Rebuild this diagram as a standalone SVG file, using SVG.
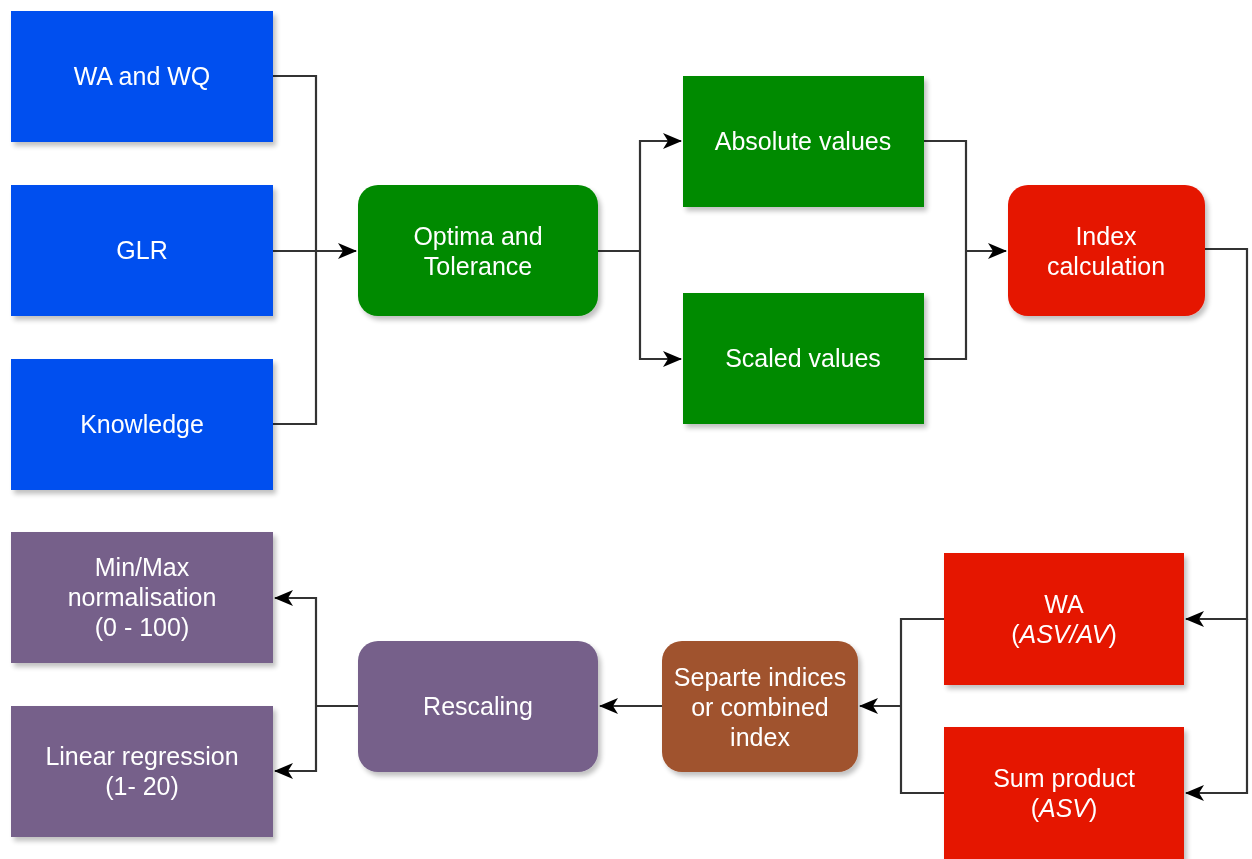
<svg xmlns="http://www.w3.org/2000/svg" width="1252" height="859" viewBox="0 0 1252 859">
<defs>
<filter id="sh" x="-10%" y="-10%" width="130%" height="130%">
<feGaussianBlur in="SourceAlpha" stdDeviation="2.5"/>
<feOffset dx="3" dy="4" result="b"/>
<feComponentTransfer><feFuncA type="linear" slope="0.25"/></feComponentTransfer>
<feMerge><feMergeNode/><feMergeNode in="SourceGraphic"/></feMerge>
</filter>
<marker id="arr" markerUnits="userSpaceOnUse" markerWidth="22" markerHeight="22" refX="19" refY="11" orient="auto" viewBox="0 0 22 22">
<path d="M1,3 L20,11 L1,19 L6,11 Z" fill="#000"/>
</marker>
</defs>
<style>
.t{font-family:"Liberation Sans",Arial,sans-serif;font-size:25px;fill:#fff;text-anchor:middle}
.blue{fill:#0050EF}
.green{fill:#008A00}
.red{fill:#E51400}
.brown{fill:#A0522D}
.purple{fill:#76608A}
.c{fill:none;stroke:#333;stroke-width:2.2}
</style>
<rect width="1252" height="859" fill="#fff"/>
<g id="connectors">
<path class="c" d="M273,76 H316 V424 H273"/>
<path class="c" d="M273,251 H356" marker-end="url(#arr)"/>
<path class="c" d="M598,251 H640"/>
<path class="c" d="M640,251 V141 H681" marker-end="url(#arr)"/>
<path class="c" d="M640,251 V359 H681" marker-end="url(#arr)"/>
<path class="c" d="M924,141 H966 V359 H924"/>
<path class="c" d="M966,251 H1006" marker-end="url(#arr)"/>
<path class="c" d="M1205,249 H1247 V619 H1186" marker-end="url(#arr)"/>
<path class="c" d="M1247,619 V793 H1186" marker-end="url(#arr)"/>
<path class="c" d="M944,619 H901 V793 H944"/>
<path class="c" d="M901,706 H860" marker-end="url(#arr)"/>
<path class="c" d="M662,706 H600" marker-end="url(#arr)"/>
<path class="c" d="M358,706 H316"/>
<path class="c" d="M316,706 V598 H275" marker-end="url(#arr)"/>
<path class="c" d="M316,706 V771 H275" marker-end="url(#arr)"/>
</g>
<g id="wa-wq" filter="url(#sh)"><rect class="blue" x="11" y="11" width="262" height="131"/><text class="t" x="142" y="85">WA and WQ</text></g>
<g id="glr" filter="url(#sh)"><rect class="blue" x="11" y="185" width="262" height="131"/><text class="t" x="142" y="259">GLR</text></g>
<g id="knowledge" filter="url(#sh)"><rect class="blue" x="11" y="359" width="262" height="131"/><text class="t" x="142" y="433">Knowledge</text></g>
<g id="optima" filter="url(#sh)"><rect class="green" x="358" y="185" width="240" height="131" rx="20"/><text class="t" x="478" y="245">Optima and</text><text class="t" x="478" y="275">Tolerance</text></g>
<g id="absolute" filter="url(#sh)"><rect class="green" x="683" y="76" width="241" height="131"/><text class="t" x="803" y="150">Absolute values</text></g>
<g id="scaled" filter="url(#sh)"><rect class="green" x="683" y="293" width="241" height="131"/><text class="t" x="803" y="367">Scaled values</text></g>
<g id="index" filter="url(#sh)"><rect class="red" x="1008" y="185" width="197" height="131" rx="20"/><text class="t" x="1106" y="245">Index</text><text class="t" x="1106" y="275">calculation</text></g>
<g id="wa-asv" filter="url(#sh)"><rect class="red" x="944" y="553" width="240" height="132"/><text class="t" x="1064" y="613">WA</text><text class="t" x="1064" y="643">(<tspan font-style="italic">ASV/AV</tspan>)</text></g>
<g id="sum-product" filter="url(#sh)"><rect class="red" x="944" y="727" width="240" height="134"/><text class="t" x="1064" y="787">Sum product</text><text class="t" x="1064" y="817">(<tspan font-style="italic">ASV</tspan>)</text></g>
<g id="separate" filter="url(#sh)"><rect class="brown" x="662" y="641" width="196" height="131" rx="20"/><text class="t" x="760" y="686">Separte indices</text><text class="t" x="760" y="716">or combined</text><text class="t" x="760" y="746">index</text></g>
<g id="rescaling" filter="url(#sh)"><rect class="purple" x="358" y="641" width="240" height="131" rx="20"/><text class="t" x="478" y="715">Rescaling</text></g>
<g id="minmax" filter="url(#sh)"><rect class="purple" x="11" y="532" width="262" height="131"/><text class="t" x="142" y="576">Min/Max</text><text class="t" x="142" y="606">normalisation</text><text class="t" x="142" y="636">(0 - 100)</text></g>
<g id="linreg" filter="url(#sh)"><rect class="purple" x="11" y="706" width="262" height="131"/><text class="t" x="142" y="765">Linear regression</text><text class="t" x="142" y="795">(1- 20)</text></g>
</svg>
